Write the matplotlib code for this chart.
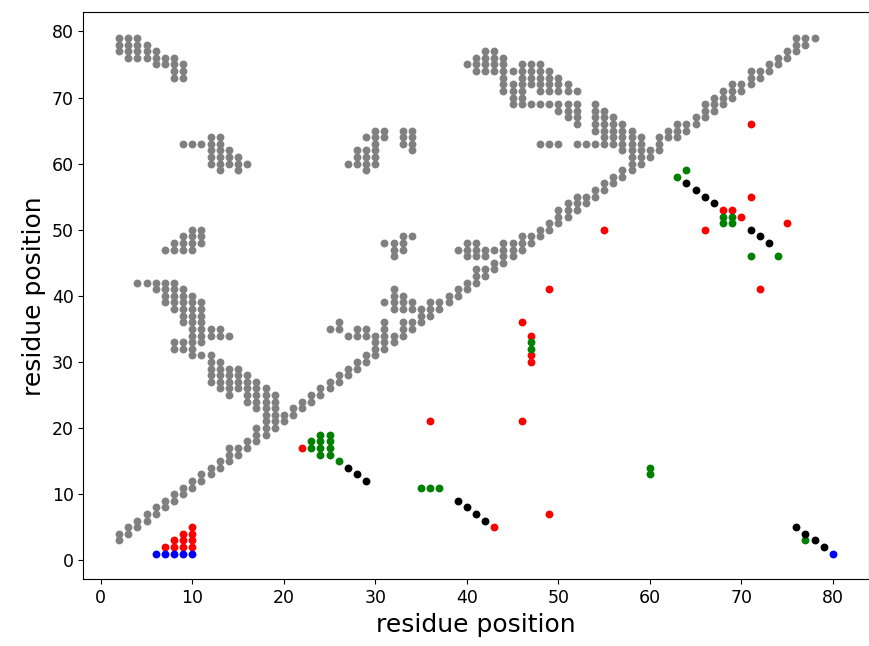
import matplotlib
matplotlib.use('Agg')
import matplotlib.pyplot as plt

# grey contacts, stored as (residue x, [residues y]) columns
diag_cols = [
    (2, [3, 4]), (3, [4, 5]), (4, [5, 6]), (5, [6, 7]), (6, [7, 8]), (7, [8, 9]),
    (8, [9, 10]), (9, [10, 11]), (10, [11, 12]), (11, [12, 13]), (12, [13, 14]),
    (13, [14, 15]), (14, [15, 16, 17]), (15, [16, 17]), (16, [17, 18]),
    (17, [18, 19, 20]), (18, [20, 21, 22]), (19, [20, 21, 22, 23, 24, 25]),
    (20, [21, 22]), (21, [22, 23]), (22, [23, 24]), (23, [24, 25]), (24, [25, 26]),
    (25, [26, 27]), (26, [27, 28]), (27, [28, 29]), (28, [29, 30]), (29, [30, 31]),
    (30, [31, 32, 33, 34]), (31, [32, 33, 34, 35, 36]), (32, [33, 34]),
    (33, [34, 35, 36]), (34, [35, 36]), (35, [36, 37, 38]), (36, [37, 38, 39]),
    (37, [38, 39]), (38, [39, 40]), (39, [40, 41]), (40, [41, 42]), (41, [42, 43, 44]),
    (42, [43, 44]), (43, [44, 45]), (44, [45, 46]), (45, [46, 47, 48]),
    (46, [47, 48, 49]), (47, [48, 49]), (48, [49, 50]), (49, [50, 51]),
    (50, [51, 52, 53]), (51, [52, 53, 54]), (52, [53, 54, 55]), (53, [54, 55]),
    (54, [55, 56]), (55, [56, 57]), (56, [57, 58]), (57, [58, 59]),
    (58, [59, 60, 61, 62]), (59, [60, 61, 62]), (60, [61, 62]), (61, [62, 63, 64]),
    (62, [64, 65]), (63, [64, 65, 66]), (64, [65, 66]), (65, [66, 67]),
    (66, [67, 68, 69]), (67, [68, 69, 70]), (68, [69, 70, 71]), (69, [70, 71, 72]),
    (70, [71, 72]), (71, [72, 73, 74]), (72, [73, 74]), (73, [74, 75]), (74, [75, 76]),
    (75, [76, 77]), (76, [77, 78, 79]), (77, [78, 79]), (78, [79]),
]

# (residue y, [residues x]) rows
anti_rows = [
    (42, [4, 5, 6, 7, 8]), (41, [6, 7, 8, 9]), (40, [7, 8, 9, 10]),
    (39, [7, 8, 9, 10, 11]), (38, [8, 9, 10, 11]), (37, [9, 10, 11]),
    (36, [9, 10, 11]), (35, [10, 11, 12, 13]), (34, [10, 11, 12, 13, 14]),
    (33, [8, 9, 10, 11]), (32, [8, 9, 10]), (31, [10, 11, 12]), (30, [12, 13]),
    (29, [12, 13, 14, 15]), (28, [12, 13, 14, 15, 16]), (27, [12, 13, 14, 15, 16, 17]),
    (26, [13, 14, 15, 16, 17, 18]), (25, [14, 16, 17, 18, 19]), (24, [16, 17, 18, 19]),
    (23, [17, 18, 19]), (22, [18, 19]), (21, [18, 19]), (20, [18, 19]), (19, [18]),
]

top_left_cols = [
    (2, [77, 78, 79]), (3, [76, 77, 78, 79]), (4, [76, 77, 78, 79]), (5, [76, 77, 78]),
    (6, [75, 76, 77]), (7, [75, 76]), (8, [73, 74, 75, 76]), (9, [73, 74, 75]),
]

small_cols = [
    (9, [63]), (10, [63]), (11, [63]), (12, [60, 61, 62, 63, 64]),
    (13, [59, 60, 61, 62, 63, 64]), (14, [60, 61, 62]), (15, [59, 60, 61]), (16, [60]),
    (27, [60]), (28, [60, 61, 62]), (29, [59, 60, 61, 62, 64]),
    (30, [60, 61, 62, 63, 64, 65]), (31, [64, 65]), (33, [63, 64, 65]),
    (34, [62, 63, 64, 65]),
    (7, [47]), (8, [47, 48]), (9, [47, 48, 49]), (10, [47, 48, 49, 50]), (11, [48, 49, 50]),
    (31, [48]), (32, [46, 47, 48]), (33, [47, 48, 49]), (34, [49]),
    (25, [35]), (26, [35, 36]), (27, [34]), (28, [34, 35]), (29, [34, 35]),
    (31, [39]), (32, [38, 39, 40, 41]), (33, [38, 39, 40]), (34, [38, 39]),
    (39, [47]), (40, [46, 47, 48]), (41, [46, 47, 48]), (42, [46, 47]), (43, [47]),
    (44, [47, 48]),
]

upper_right_rows = [
    (77, [42, 43]), (76, [41, 42, 43, 44]), (75, [40, 41, 42, 43, 44, 46, 47, 48]),
    (74, [41, 42, 43, 44, 45, 46, 47, 48, 49]), (73, [44, 46, 47, 48, 49, 50]),
    (72, [44, 45, 46, 47, 48, 49, 50, 51]), (71, [44, 45, 46, 48, 49, 50, 51, 52]),
    (70, [45, 46]), (69, [45, 46, 47, 48, 49, 50, 51, 52, 54]),
    (68, [50, 51, 52, 54, 55]), (67, [51, 52, 54, 55, 56]), (66, [52, 54, 55, 56, 57]),
    (65, [54, 55, 56, 57, 58]), (64, [55, 56, 57, 58, 59]),
    (63, [48, 49, 50, 52, 53, 54, 55, 56, 57, 58, 59, 61]),
    (62, [57, 58, 59, 60]), (61, [58, 59, 60]), (60, [58, 59]), (59, [58]),
]

red_x = [7, 8, 8, 9, 9, 9, 10, 10, 10, 10, 22, 36, 46, 43, 49, 46, 47, 47, 47,
         49, 55, 66, 68, 69, 70, 71, 71, 72, 75]
red_y = [2, 2, 3, 2, 3, 4, 2, 3, 4, 5, 17, 21, 21, 5, 7, 36, 34, 31, 30,
         41, 50, 50, 53, 53, 52, 55, 66, 41, 51]
green_x = [23, 23, 24, 24, 24, 24, 25, 25, 25, 25, 26, 35, 36, 37, 47, 47, 60, 60,
           63, 64, 68, 68, 69, 69, 71, 74, 77]
green_y = [17, 18, 16, 17, 18, 19, 16, 17, 18, 19, 15, 11, 11, 11, 32, 33, 13, 14,
           58, 59, 51, 52, 51, 52, 46, 46, 3]
black_x = [27, 28, 29, 39, 40, 41, 42, 64, 65, 66, 67, 71, 72, 73, 76, 77, 78, 79]
black_y = [14, 13, 12, 9, 8, 7, 6, 57, 56, 55, 54, 50, 49, 48, 5, 4, 3, 2]
blue_x = [6, 7, 8, 9, 10, 80]
blue_y = [1, 1, 1, 1, 1, 1]

grey = set()
for x, ys in diag_cols + top_left_cols + small_cols:
    for y in ys:
        grey.add((x, y))
for y, xs in anti_rows + upper_right_rows:
    for x in xs:
        grey.add((x, y))
grey = sorted(grey)
grey_x = [p[0] for p in grey]
grey_y = [p[1] for p in grey]

fig = plt.figure(figsize=(8.69, 6.46), dpi=100)
ax = fig.add_axes([0.096, 0.103, 0.9035, 0.878])

ms = 32
ax.scatter(grey_x, grey_y, s=ms, c='grey', linewidths=0)
ax.scatter(red_x, red_y, s=ms, c='red', linewidths=0)
ax.scatter(green_x, green_y, s=ms, c='green', linewidths=0)
ax.scatter(black_x, black_y, s=ms, c='black', linewidths=0)
ax.scatter(blue_x, blue_y, s=ms, c='blue', linewidths=0)

ax.set_xlabel('residue position', fontsize=18)
ax.set_ylabel('residue position', fontsize=18)
ax.tick_params(labelsize=12.5)

fig.savefig('out.png', dpi=100)
